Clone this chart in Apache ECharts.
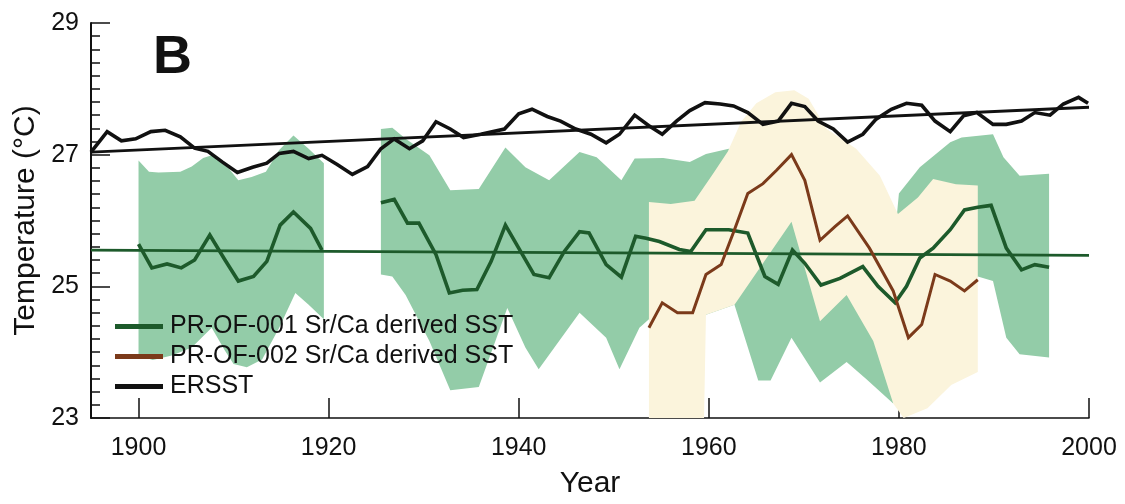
<!DOCTYPE html>
<html><head><meta charset="utf-8">
<script src="https://cdn.jsdelivr.net/npm/echarts@6/dist/echarts.min.js"></script>
<style>html,body{margin:0;padding:0;background:#fff}#c{width:1125px;height:504px}</style>
</head><body><div id="c"></div>
<script>
// ---- tick labels ----
const xTicks = [1900, 1920, 1940, 1960, 1980, 2000];
const yTicks = [23, 25, 27, 29];

// ---- ERSST ----
const ersst = [[1895.0,27.04],[1896.7,27.35],[1898.2,27.21],[1899.7,27.24],[1901.3,27.35],[1902.8,27.37],[1904.4,27.27],[1905.9,27.10],[1907.3,27.05],[1908.8,26.89],[1910.4,26.73],[1912.0,26.81],[1913.5,26.87],[1914.8,27.02],[1916.3,27.05],[1917.9,26.94],[1919.3,26.99],[1920.9,26.85],[1922.5,26.70],[1924.1,26.82],[1925.5,27.09],[1926.9,27.24],[1928.5,27.09],[1929.9,27.21],[1931.3,27.50],[1932.8,27.39],[1934.2,27.26],[1936.0,27.31],[1938.5,27.39],[1940.0,27.62],[1941.4,27.69],[1943.0,27.58],[1944.4,27.51],[1946.0,27.39],[1947.6,27.31],[1949.2,27.18],[1950.6,27.31],[1952.2,27.60],[1953.7,27.44],[1955.1,27.31],[1956.6,27.51],[1958.0,27.67],[1959.6,27.79],[1961.2,27.77],[1962.6,27.74],[1964.1,27.64],[1965.7,27.46],[1967.3,27.51],[1968.7,27.78],[1970.1,27.73],[1971.5,27.51],[1973.1,27.39],[1974.6,27.19],[1976.2,27.31],[1977.6,27.54],[1979.2,27.69],[1980.8,27.78],[1982.4,27.75],[1983.8,27.51],[1985.4,27.35],[1986.8,27.59],[1988.2,27.64],[1989.9,27.46],[1991.3,27.46],[1992.9,27.51],[1994.3,27.64],[1995.9,27.60],[1997.3,27.77],[1998.9,27.87],[1999.9,27.78]];
const ersstTrend = [[1895,27.04],[2000,27.72]];

// ---- PR-OF-001 ----
const sst001a = [[1900.0,25.64],[1901.4,25.28],[1903.0,25.34],[1904.5,25.28],[1905.9,25.40],[1907.5,25.78],[1909.1,25.40],[1910.5,25.08],[1912.1,25.15],[1913.5,25.38],[1914.9,25.93],[1916.3,26.13],[1918.1,25.88],[1919.3,25.55]];
const sst001b = [[1925.5,26.27],[1926.9,26.32],[1928.3,25.96],[1929.5,25.96],[1931.3,25.48],[1932.7,24.90],[1934.1,24.94],[1935.6,24.95],[1937.1,25.38],[1938.6,25.93],[1940.0,25.58],[1941.6,25.18],[1943.2,25.13],[1944.8,25.53],[1946.4,25.83],[1947.4,25.81],[1949.2,25.33],[1950.8,25.14],[1952.3,25.76],[1953.4,25.73],[1954.8,25.68],[1956.9,25.56],[1958.1,25.53],[1959.7,25.86],[1962.1,25.86],[1964.1,25.81],[1965.9,25.15],[1967.3,25.03],[1968.8,25.55],[1970.1,25.35],[1971.8,25.02],[1973.8,25.12],[1976.2,25.30],[1977.8,25.00],[1979.6,24.75],[1980.8,25.00],[1982.2,25.43],[1983.6,25.58],[1985.4,25.86],[1986.9,26.16],[1988.3,26.20],[1989.7,26.23],[1991.3,25.58],[1992.9,25.25],[1994.3,25.33],[1995.8,25.29]];
const sst001Trend = [[1895,25.55],[2000,25.47]];
const band001aUpper = [[1900.0,26.91],[1901.1,26.74],[1902.1,26.73],[1904.4,26.74],[1905.6,26.82],[1906.8,26.95],[1907.7,26.99],[1909.5,26.79],[1910.5,26.61],[1911.9,26.66],[1913.4,26.74],[1914.8,27.07],[1916.3,27.29],[1917.9,27.09],[1919.5,26.87]];
const band001aLower = [[1900.0,23.95],[1901.5,23.88],[1903.5,23.95],[1905.6,24.07],[1907.7,24.37],[1909.1,24.02],[1910.0,23.82],[1911.4,23.77],[1913.0,23.89],[1914.8,24.37],[1916.5,24.90],[1917.9,24.72],[1919.5,24.50]];
const band001bUpper = [[1925.5,27.39],[1926.7,27.41],[1928.1,27.24],[1930.6,26.99],[1932.8,26.46],[1935.8,26.48],[1938.6,27.11],[1940.7,26.81],[1943.2,26.61],[1946.4,27.04],[1948.2,26.96],[1950.8,26.61],[1952.2,26.94],[1955.2,26.95],[1958.0,26.89],[1959.7,27.01],[1962.1,27.09],[1965.0,26.90],[1968.5,26.85],[1972.0,26.60],[1976.0,26.60],[1978.0,26.45],[1979.8,26.10],[1980.0,26.41],[1982.2,26.81],[1985.4,27.19],[1986.6,27.26],[1989.9,27.31],[1991.0,26.96],[1992.7,26.68],[1995.8,26.71]];
const band001bLower = [[1925.5,25.18],[1926.7,25.15],[1928.1,24.87],[1930.6,24.17],[1932.8,23.42],[1935.8,23.47],[1938.8,24.67],[1940.7,24.07],[1942.1,23.74],[1946.4,24.60],[1949.2,24.22],[1950.6,23.74],[1952.7,24.37],[1953.7,24.50],[1957.0,24.30],[1959.7,24.57],[1962.7,24.72],[1965.2,23.57],[1966.5,23.57],[1968.7,24.22],[1971.7,23.54],[1974.5,23.85],[1976.5,23.60],[1979.4,23.22],[1981.0,23.50],[1984.0,24.20],[1986.5,24.80],[1988.3,25.15],[1989.9,25.08],[1991.3,24.22],[1992.7,23.97],[1995.8,23.92]];

// ---- PR-OF-002 ----
const sst002 = [[1953.7,24.37],[1955.1,24.75],[1956.7,24.60],[1958.3,24.60],[1959.7,25.18],[1961.3,25.33],[1962.7,25.86],[1964.1,26.41],[1965.7,26.56],[1967.1,26.76],[1968.7,27.00],[1970.1,26.61],[1971.7,25.70],[1973.3,25.91],[1974.6,26.07],[1976.9,25.58],[1979.4,24.93],[1981.0,24.22],[1982.4,24.42],[1983.8,25.18],[1985.4,25.08],[1986.9,24.93],[1988.3,25.10]];
const band002Upper = [[1953.7,26.28],[1956.0,26.25],[1958.5,26.30],[1960.5,26.72],[1962.0,27.05],[1963.4,27.50],[1965.0,27.78],[1967.0,27.95],[1969.0,27.98],[1970.5,27.85],[1972.4,27.39],[1975.5,27.09],[1978.0,26.68],[1979.9,26.10],[1982.0,26.35],[1983.6,26.63],[1986.0,26.55],[1988.3,26.53]];
const band002Lower = [[1953.7,23.0],[1959.5,23.0],[1959.7,24.57],[1962.7,24.72],[1968.7,25.98],[1971.7,24.47],[1974.5,24.87],[1977.3,24.17],[1979.4,23.22],[1980.5,23.0],[1983.0,23.15],[1985.5,23.5],[1988.3,23.7]];

const names = ['PR-OF-001 Sr/Ca derived SST', 'PR-OF-002 Sr/Ca derived SST', 'ERSST'];
const FONT = '"Liberation Sans", Arial, Helvetica, sans-serif';
const GREEN = '#1d5a2b', BROWN = '#7b3a1a', BLACK = '#111111';

function band(upper, lower, color, z) {
  return {
    type: 'custom', silent: true, z: z, clip: true,
    data: upper,
    renderItem: function (params, api) {
      if (params.dataIndex !== 0) return null;
      const pts = upper.map(p => api.coord(p)).concat(lower.slice().reverse().map(p => api.coord(p)));
      return { type: 'polygon', shape: { points: pts }, style: { fill: color } };
    }
  };
}
function line(name, data, color, width, z) {
  return { type: 'line', name: name, data: data, showSymbol: false, symbol: 'none', z: z,
    lineStyle: { color: color, width: width, join: 'miter' }, itemStyle: { color: color }, connectNulls: false };
}

const chart = echarts.init(document.getElementById('c'), null, { renderer: 'canvas' });
chart.setOption({
  animation: false,
  backgroundColor: '#fff',
  grid: { left: 91, right: 36, top: 23, bottom: 83, containLabel: false },
  title: { text: 'B', left: 148, top: 26, textStyle: { fontFamily: FONT, fontSize: 54, fontWeight: 'bold', color: BLACK } },
  legend: {
    data: names, orient: 'vertical', left: 110, top: 309, itemWidth: 48, itemHeight: 5, itemGap: 5, icon: 'rect',
    textStyle: { fontFamily: FONT, fontSize: 25, color: BLACK, padding: [0, 0, 0, 2] }
  },
  xAxis: {
    type: 'value', min: 1895, max: 2000,
    name: 'Year', nameLocation: 'middle', nameGap: 51,
    nameTextStyle: { fontFamily: FONT, fontSize: 30, color: BLACK },
    axisLine: { lineStyle: { color: BLACK, width: 1.5 } },
    axisTick: { inside: true, length: 20, customValues: xTicks, lineStyle: { color: BLACK, width: 1.5 } },
    axisLabel: { customValues: xTicks, margin: 18, fontFamily: FONT, fontSize: 25, color: BLACK, formatter: v => String(v) },
    splitLine: { show: false }
  },
  yAxis: {
    type: 'value', min: yTicks[0], max: yTicks[yTicks.length - 1], interval: 2,
    name: 'Temperature (°C)', nameLocation: 'middle', nameGap: 50,
    nameTextStyle: { fontFamily: FONT, fontSize: 30, color: BLACK },
    axisLine: { lineStyle: { color: BLACK, width: 2 } },
    axisTick: { inside: true, length: 19, lineStyle: { color: BLACK, width: 1.5 } },
    minorTick: { show: true, splitNumber: 10, length: 9, lineStyle: { color: BLACK, width: 1.5 } },
    axisLabel: { margin: 12, fontFamily: FONT, fontSize: 25, color: BLACK, formatter: v => String(v) },
    splitLine: { show: false }, minorSplitLine: { show: false }
  },
  series: [
    band(band001aUpper, band001aLower, '#93cca8', 1),
    band(band001bUpper, band001bLower, '#93cca8', 1),
    band(band002Upper, band002Lower, '#fbf4dc', 2),
    line('t001', sst001Trend, GREEN, 2.6, 3),
    line('tE', ersstTrend, BLACK, 2.8, 3),
    line(names[0], sst001a.concat([[1922, null]], sst001b), GREEN, 3.6, 4),
    line(names[1], sst002, BROWN, 3, 5),
    line(names[2], ersst, BLACK, 3.6, 6)
  ]
});
</script></body></html>
